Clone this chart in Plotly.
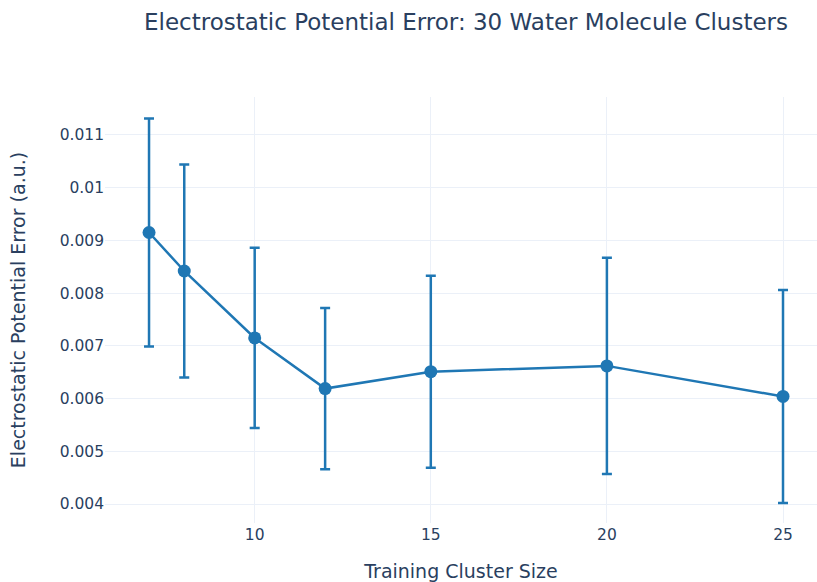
import plotly.graph_objects as go

cluster_size = [7, 8, 10, 12, 15, 20, 25]
mean_error = [0.00915, 0.00842, 0.00715, 0.00619, 0.00651, 0.00662, 0.00604]
std_error = [0.00216, 0.00202, 0.00171, 0.00153, 0.00182, 0.00205, 0.00202]

title_text = "Electrostatic Potential Error: 30 Water Molecule Clusters"
x_title = "Training Cluster Size"
y_title = "Electrostatic Potential Error (a.u.)"

color = "#1f77b4"
font_family = "Verdana, DejaVu Sans, sans-serif"

fig = go.Figure(
    go.Scatter(
        x=cluster_size,
        y=mean_error,
        mode="lines+markers",
        line=dict(color=color, width=2.5),
        marker=dict(color=color, size=13),
        error_y=dict(type="data", array=std_error, visible=True,
                     color=color, thickness=2.5, width=5),
    )
)

fig.update_layout(
    template="plotly_white",
    width=817,
    height=582,
    margin=dict(l=105, r=0, t=97, b=59),
    font=dict(family=font_family, color="#2a3f5f", size=15.5),
    title=dict(text=title_text, x=466 / 817, xanchor="center", xref="container",
               y=1 - 22 / 582, yanchor="middle", yref="container",
               font=dict(size=23)),
    xaxis=dict(title=dict(text=x_title, font=dict(size=19), standoff=23),
               range=[5.75, 25.965], tickvals=[10, 15, 20, 25], zeroline=False,
               automargin=False),
    yaxis=dict(title=dict(text=y_title, font=dict(size=19), standoff=28),
               range=[0.00364, 0.01172], dtick=0.001, tick0=0.004, zeroline=False,
               automargin=False),
    showlegend=False,
)

fig.write_html("out.html")
